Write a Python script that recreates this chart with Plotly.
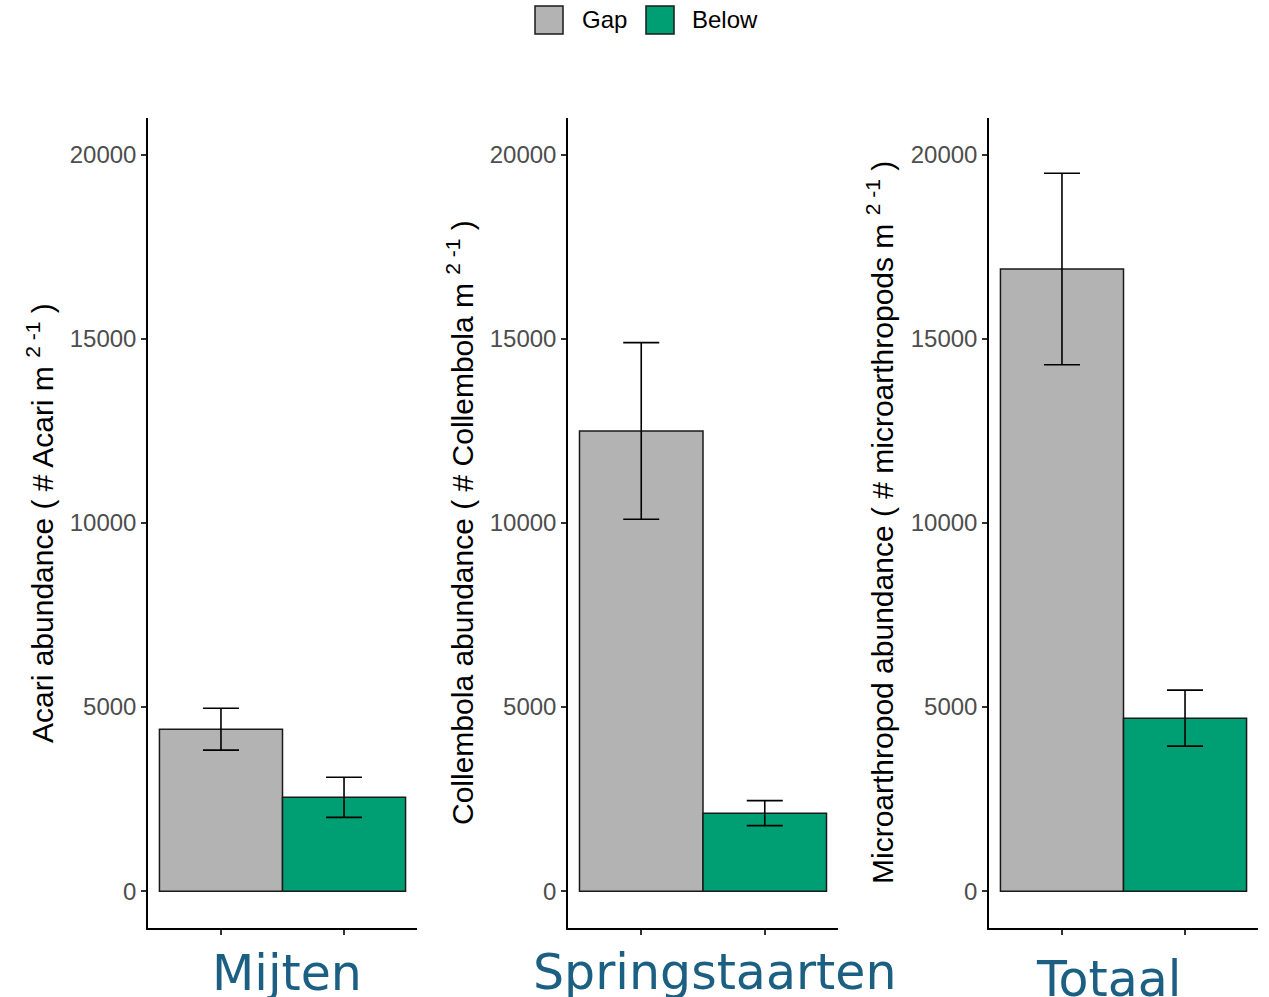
import plotly.graph_objects as go

# ---- data ----
panels = ["Mijten", "Springstaarten", "Totaal"]
groups = ["Gap", "Below"]
gap_means = [4400, 12500, 16900]
gap_errs = [570, 2400, 2600]
below_means = [2550, 2120, 4700]
below_errs = [545, 340, 760]
y_titles = [
    "Acari abundance ( # Acari m <sup>2 -1</sup> )",
    "Collembola abundance ( # Collembola m <sup>2 -1</sup> )",
    "Microarthropod abundance ( # microarthropods m <sup>2 -1</sup> )",
]
y_ticks = [0, 5000, 10000, 15000, 20000]
y_ticklabels = ["0", "5000", "10000", "15000", "20000"]

W, H = 1269, 997
colors = {"Gap": "#b3b3b3", "Below": "#009E73"}

# panel pixel extents in the target picture
x_px = [(148, 417), (568, 838), (989, 1258)]
y_top_px, y_bot_px = 118, 928
title_x_px = [40, 460, 880]
label_x_px = [287, 714, 1108]
label_y_px = [973, 972, 979]
legend_swatch_x = [535, 646]
legend_text_x = [580, 690]
legend_y = 20


def px(x):
    return x / W


def py(y):
    return 1 - y / H


fig = go.Figure()
for i in range(3):
    ax = "" if i == 0 else str(i + 1)
    for g, (means, errs) in zip(groups, [(gap_means, gap_errs), (below_means, below_errs)]):
        fig.add_trace(go.Bar(
            x=[groups.index(g) + 1], y=[means[i]], width=1.0,
            name=g, legendgroup=g, showlegend=False,
            marker=dict(color=colors[g], line=dict(color="#1a1a1a", width=1.5)),
            error_y=dict(type="data", array=[errs[i]], color="black", thickness=1.6, width=18),
            xaxis="x" + ax, yaxis="y" + ax,
        ))
    x0, x1 = x_px[i]
    fig.layout["xaxis" + ax] = dict(
        domain=[px(x0), px(x1)], range=[0.407, 2.593], anchor="y" + ax,
        tickvals=[1, 2], showticklabels=False, ticks="outside", ticklen=5,
        tickcolor="#333333", tickwidth=1.5,
        showline=True, linecolor="black", linewidth=1.5, showgrid=False, zeroline=False,
    )
    fig.layout["yaxis" + ax] = dict(
        domain=[py(y_bot_px), py(y_top_px)], range=[-1000, 21000], anchor="x" + ax,
        tickvals=y_ticks, ticktext=y_ticklabels, ticks="outside", ticklen=5,
        tickcolor="#333333", tickwidth=1.5,
        tickfont=dict(family="Liberation Sans, Arial", size=24, color="#4d4d4d"),
        showline=True, linecolor="black", linewidth=1.5, showgrid=False, zeroline=False,
    )
    fig.add_annotation(
        xref="paper", yref="paper", x=px(title_x_px[i]), y=py((y_top_px + y_bot_px) / 2),
        text=y_titles[i], textangle=-90, showarrow=False, xanchor="center", yanchor="middle",
        font=dict(family="Liberation Sans, Arial", size=30, color="black"),
    )
    fig.add_annotation(
        xref="paper", yref="paper", x=px(label_x_px[i]), y=py(label_y_px[i]),
        text=panels[i], showarrow=False, xanchor="center", yanchor="middle",
        font=dict(family="DejaVu Sans, Verdana", size=49, color="#1b5f82"),
    )

# legend (drawn as swatches + text to match the large key boxes)
for g, sx, tx in zip(groups, legend_swatch_x, legend_text_x):
    fig.add_shape(type="rect", xref="paper", yref="paper",
                  x0=px(sx), x1=px(sx + 28), y0=py(legend_y + 14), y1=py(legend_y - 14),
                  fillcolor=colors[g], line=dict(color="#1a1a1a", width=1.5))
    fig.add_annotation(xref="paper", yref="paper", x=px(tx), y=py(legend_y),
                       text=g, showarrow=False, xanchor="left", yanchor="middle",
                       font=dict(family="Liberation Sans, Arial", size=24, color="black"))

fig.update_layout(
    width=W, height=H, margin=dict(l=0, r=0, t=0, b=0),
    paper_bgcolor="white", plot_bgcolor="white", barmode="overlay",
    showlegend=False,
)

fig.write_html("out.html", config={"displayModeBar": False},
               post_script="document.body.style.margin='0px';")
